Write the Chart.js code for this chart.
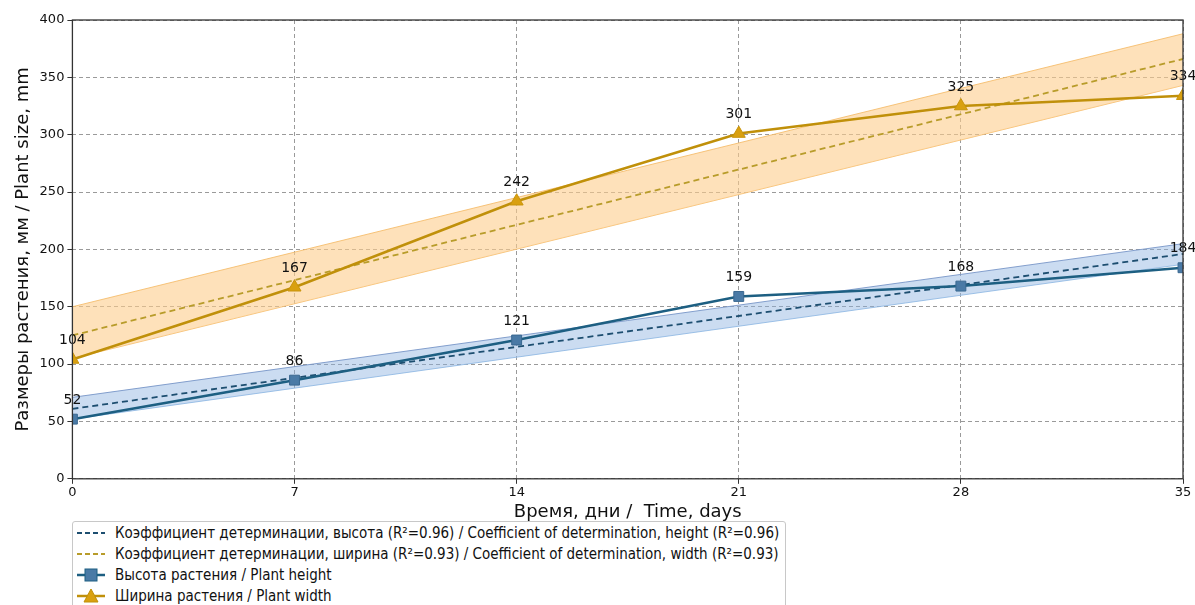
<!DOCTYPE html>
<html>
<head>
<meta charset="utf-8">
<script src="https://cdn.jsdelivr.net/npm/chart.js@4.4.1/dist/chart.umd.min.js"></script>
<style>
  body { margin: 0; background: #fff; font-family: "DejaVu Sans", sans-serif; }
  #wrap { position: relative; width: 1195px; height: 605px; overflow: hidden; }
  #box { position: absolute; left: 0; top: 0; width: 1195px; height: 523px; }
  #legend {
    position: absolute; left: 72px; top: 521px; width: 712px; height: 100px;
    border: 1px solid #c8c8c8; border-radius: 3px; background: #fff;
    font-family: "DejaVu Sans Condensed", "DejaVu Sans", sans-serif; font-size: 15px; color: #111;
  }
  .row { height: 21px; display: flex; align-items: center; padding-left: 4px; }
  .row svg { margin-right: 10px; }
</style>
</head>
<body>
<div id="wrap">
  <div id="box"><canvas id="plantChart"></canvas></div>
  <div id="legend"></div>
</div>
<script>
// дни наблюдения
const days = [0, 7, 14, 21, 28, 35];
// измерения
const heightValues = [52, 86, 121, 159, 168, 184];
const widthValues = [104, 167, 242, 301, 325, 334];
// линии тренда (концы отрезков)
const trendDays = [0, 35];
const heightTrend = [61, 196];
const widthTrend = [125, 366];
// доверительные полосы
const heightBandLow = [52, 187];
const heightBandHigh = [71, 205];
const widthBandLow = [105, 343];
const widthBandHigh = [150, 388];
// подписи осей
const yTicks = [0, 50, 100, 150, 200, 250, 300, 350, 400];
const xTicks = [0, 7, 14, 21, 28, 35];

const legendItems = [
  { text: 'Коэффициент детерминации, высота (R²=0.96) / Coefficient of determination, height (R²=0.96)', kind: 'dash', color: '#1d4e70' },
  { text: 'Коэффициент детерминации, ширина (R²=0.93) / Coefficient of determination, width (R²=0.93)', kind: 'dash', color: '#b89c2a' },
  { text: 'Высота растения / Plant height', kind: 'square', color: '#1d5f82', fill: '#4a7aa6' },
  { text: 'Ширина растения / Plant width', kind: 'triangle', color: '#c0900a', fill: '#d9a010' }
];

const pts = (xs, ys) => xs.map((x, i) => ({ x: x, y: ys[i] }));

// рамка вокруг области графика
const frame = {
  id: 'frame',
  afterDraw(chart) {
    const a = chart.chartArea, c = chart.ctx;
    c.save();
    c.strokeStyle = '#333';
    c.lineWidth = 1.3;
    c.strokeRect(a.left, a.top, a.right - a.left, a.bottom - a.top);
    c.restore();
  }
};

// подписи значений над точками
const valueLabels = {
  id: 'valueLabels',
  afterDatasetsDraw(chart) {
    const c = chart.ctx;
    c.save();
    c.font = '14px "DejaVu Sans"';
    c.fillStyle = '#111';
    c.textAlign = 'center';
    c.textBaseline = 'bottom';
    [6, 7].forEach(di => {
      const meta = chart.getDatasetMeta(di);
      meta.data.forEach((p, i) => {
        c.fillText(chart.data.datasets[di].data[i].y, p.x, p.y - 12);
      });
    });
    c.restore();
  }
};

const gridOpts = { color: '#9a9a9a', tickBorderDash: [], tickColor: '#333', tickLength: 5, lineWidth: 1 };

const ctx = document.getElementById('plantChart').getContext('2d');
const chart = new Chart(ctx, {
  type: 'line',
  data: {
    datasets: [
      { order: 10, data: pts(trendDays, heightBandLow), borderColor: 'rgba(150,190,230,0.9)', borderWidth: 1, pointRadius: 0, fill: false },
      { order: 9, data: pts(trendDays, heightBandHigh), borderColor: 'rgba(120,150,200,0.9)', borderWidth: 1, pointRadius: 0, fill: '-1', backgroundColor: 'rgba(140,178,225,0.45)' },
      { order: 8, data: pts(trendDays, widthBandLow), borderColor: 'rgba(245,190,110,0.9)', borderWidth: 1, pointRadius: 0, fill: false },
      { order: 7, data: pts(trendDays, widthBandHigh), borderColor: 'rgba(245,190,110,0.9)', borderWidth: 1, pointRadius: 0, fill: '-1', backgroundColor: 'rgba(253,205,140,0.6)' },
      { order: 4, data: pts(trendDays, heightTrend), borderColor: '#1d4e70', borderWidth: 1.8, borderDash: [6, 4], pointRadius: 0, fill: false },
      { order: 3, data: pts(trendDays, widthTrend), borderColor: '#b89c2a', borderWidth: 1.8, borderDash: [6, 4], pointRadius: 0, fill: false },
      { order: 2, data: pts(days, heightValues), borderColor: '#1d5f82', borderWidth: 2.5, pointStyle: 'rect', pointRadius: 7,
        pointBackgroundColor: '#4a7aa6', pointBorderColor: '#3a6890', pointBorderWidth: 1, fill: false },
      { order: 1, data: pts(days, widthValues), borderColor: '#c0900a', borderWidth: 2.5, pointStyle: 'triangle', pointRadius: 7.5,
        pointBackgroundColor: '#d9a010', pointBorderColor: '#c8940c', pointBorderWidth: 1, fill: false }
    ]
  },
  options: {
    responsive: true,
    maintainAspectRatio: false,
    animation: false,
    layout: { padding: { top: 20, right: 12, left: 13, bottom: 0 } },
    plugins: { legend: { display: false }, tooltip: { enabled: false } },
    elements: { line: { tension: 0 } },
    scales: {
      x: {
        type: 'linear', min: 0, max: 35,
        afterBuildTicks: ax => { ax.ticks = xTicks.map(v => ({ value: v })); },
        grid: gridOpts,
        border: { display: false, dash: [4, 3] },
        ticks: { color: '#111', font: { family: 'DejaVu Sans', size: 13 }, padding: 1, maxRotation: 0 },
        title: { display: true, text: 'Время, дни /  Time, days', color: '#111', font: { family: 'DejaVu Sans', size: 18 }, padding: { top: 0, bottom: 0 } }
      },
      y: {
        min: 0, max: 400,
        afterBuildTicks: ax => { ax.ticks = yTicks.map(v => ({ value: v })); },
        grid: gridOpts,
        border: { display: false, dash: [4, 3] },
        ticks: { color: '#111', font: { family: 'DejaVu Sans', size: 13 }, padding: 3 },
        title: { display: true, text: 'Размеры растения, мм / Plant size, mm', color: '#111', font: { family: 'DejaVu Sans', size: 18 }, padding: { top: 0, bottom: 2 } }
      }
    }
  },
  plugins: [frame, valueLabels]
});

// легенда под графиком
const legend = document.getElementById('legend');
legendItems.forEach(item => {
  const row = document.createElement('div');
  row.className = 'row';
  let mark = '';
  if (item.kind === 'square') {
    mark = `<rect x="8" y="3" width="12" height="12" fill="${item.fill}" stroke="${item.color}" stroke-width="1"/>`;
  } else if (item.kind === 'triangle') {
    mark = `<polygon points="14,2 21,15 7,15" fill="${item.fill}" stroke="${item.color}" stroke-width="1"/>`;
  }
  const dash = item.kind === 'dash' ? 'stroke-dasharray="5,3"' : '';
  const w = item.kind === 'dash' ? 1.8 : 2.5;
  row.innerHTML = `<svg width="28" height="18"><line x1="0" y1="9" x2="28" y2="9" stroke="${item.color}" stroke-width="${w}" ${dash}/>${mark}</svg><span>${item.text}</span>`;
  legend.appendChild(row);
});
</script>
</body>
</html>
